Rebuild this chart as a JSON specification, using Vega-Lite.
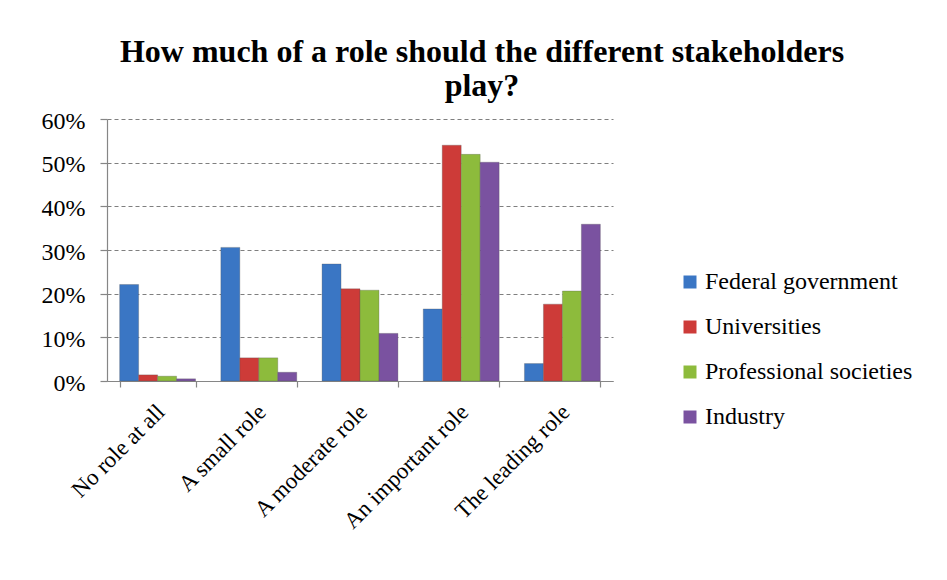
{
  "$schema": "https://vega.github.io/schema/vega-lite/v6.json",
  "width": 506,
  "height": 262,
  "autosize": {"type": "none"},
  "padding": {"left": 107, "top": 119, "right": 334, "bottom": 199},
  "background": "white",
  "title": {
    "text": ["How much of a role should the different stakeholders", "play?"],
    "font": "Liberation Serif",
    "fontSize": 32,
    "fontWeight": "bold",
    "color": "#000000",
    "anchor": "middle",
    "dx": 122,
    "lineHeight": 34,
    "offset": 6
  },
  "data": {
    "values": [
      {"role": "No role at all", "group": "Federal government", "value": 0.221},
      {"role": "No role at all", "group": "Universities", "value": 0.014},
      {"role": "No role at all", "group": "Professional societies", "value": 0.011},
      {"role": "No role at all", "group": "Industry", "value": 0.005},
      {"role": "A small role", "group": "Federal government", "value": 0.306},
      {"role": "A small role", "group": "Universities", "value": 0.053},
      {"role": "A small role", "group": "Professional societies", "value": 0.053},
      {"role": "A small role", "group": "Industry", "value": 0.020},
      {"role": "A moderate role", "group": "Federal government", "value": 0.268},
      {"role": "A moderate role", "group": "Universities", "value": 0.211},
      {"role": "A moderate role", "group": "Professional societies", "value": 0.208},
      {"role": "A moderate role", "group": "Industry", "value": 0.109},
      {"role": "An important role", "group": "Federal government", "value": 0.165},
      {"role": "An important role", "group": "Universities", "value": 0.540},
      {"role": "An important role", "group": "Professional societies", "value": 0.519},
      {"role": "An important role", "group": "Industry", "value": 0.501},
      {"role": "The leading role", "group": "Federal government", "value": 0.040},
      {"role": "The leading role", "group": "Universities", "value": 0.176},
      {"role": "The leading role", "group": "Professional societies", "value": 0.206},
      {"role": "The leading role", "group": "Industry", "value": 0.359}
    ]
  },
  "mark": {"type": "bar", "stroke": "#555555", "strokeWidth": 0.6, "strokeOpacity": 0.5},
  "encoding": {
    "x": {
      "field": "role",
      "type": "nominal",
      "sort": ["No role at all", "A small role", "A moderate role", "An important role", "The leading role"],
      "scale": {"paddingInner": 0.25, "paddingOuter": 0.125},
      "axis": {
        "title": null,
        "labelAngle": -45,
        "labelAlign": "right",
        "labelBaseline": "middle",
        "labelFont": "Liberation Serif",
        "labelFontSize": 23,
        "labelColor": "#000000",
        "labelPadding": 21,
        "labelOffset": 3,
        "tickBand": "extent",
        "tickSize": 6,
        "tickColor": "#868686",
        "domainColor": "#868686",
        "labelLimit": 300
      }
    },
    "xOffset": {
      "field": "group",
      "type": "nominal",
      "sort": ["Federal government", "Universities", "Professional societies", "Industry"],
      "scale": {"paddingInner": 0, "paddingOuter": 0}
    },
    "y": {
      "field": "value",
      "type": "quantitative",
      "scale": {"domain": [0, 0.6], "nice": false},
      "axis": {
        "title": null,
        "format": ".0%",
        "values": [0, 0.1, 0.2, 0.3, 0.4, 0.5, 0.6],
        "labelFont": "Liberation Serif",
        "labelFontSize": 24,
        "labelColor": "#000000",
        "labelPadding": 15,
        "labelOffset": 2,
        "tickSize": 7,
        "tickColor": "#868686",
        "domainColor": "#868686",
        "gridColor": "#7f7f7f",
        "gridDash": [4, 3],
        "gridWidth": 1
      }
    },
    "color": {
      "field": "group",
      "type": "nominal",
      "sort": ["Federal government", "Universities", "Professional societies", "Industry"],
      "scale": {
        "domain": ["Federal government", "Universities", "Professional societies", "Industry"],
        "range": ["#3A76C4", "#CD3B38", "#8DBB3C", "#7A52A0"]
      },
      "legend": {
        "title": null,
        "orient": "none",
        "legendX": 571,
        "legendY": 151,
        "symbolType": "square",
        "symbolSize": 169,
        "symbolStrokeWidth": 0,
        "labelFont": "Liberation Serif",
        "labelFontSize": 24,
        "labelColor": "#000000",
        "labelOffset": 3,
        "rowPadding": 21,
        "labelLimit": 300
      }
    }
  },
  "config": {
    "view": {"stroke": null},
    "axis": {"domainWidth": 1.2, "tickWidth": 1.2}
  }
}
